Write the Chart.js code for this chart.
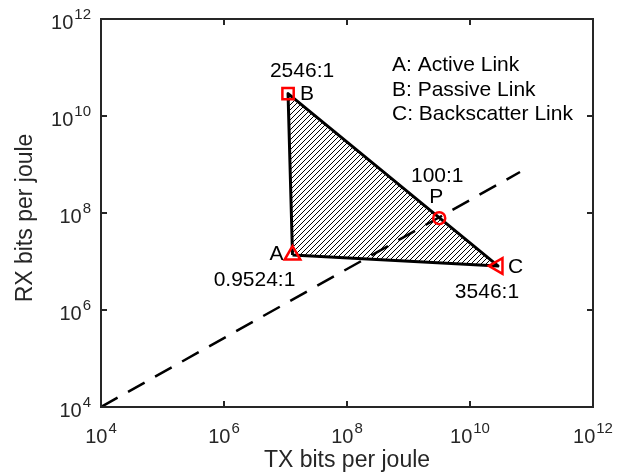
<!DOCTYPE html>
<html>
<head>
<meta charset="utf-8">
<script src="https://cdn.jsdelivr.net/npm/chart.js@4.4.1/dist/chart.umd.min.js"></script>
<style>
  html, body { margin: 0; padding: 0; background: #fff; }
</style>
</head>
<body>
<canvas id="linkChart" width="631" height="474"></canvas>
<script>
// TX / RX energy efficiency of each link type (bits per joule)
const linkNames = ['A', 'B', 'C'];
const txBits = [1.3e7, 1.1e7, 2.85e10];
const rxBits = [1.36e7, 2.9e10, 8.1e6];
const linkRatios = ['0.9524:1', '2546:1', '3546:1'];

// operating point P on the B-C edge
const pName = 'P';
const pTx = 3.16e9;
const pRx = 7.8e7;
const pRatio = '100:1';

// dashed reference line
const refTx = [1e4, 6.5e10];
const refRx = [1e4, 7.0e8];

const tickExps = [4, 6, 8, 10, 12];
const legendLines = ['A: Active Link', 'B: Passive Link', 'C: Backscatter Link'];

const FONT = '"Liberation Sans", Arial, Helvetica, sans-serif';
const AXIS_COLOR = '#262626';

function hatchPattern(ctx) {
    const tile = document.createElement('canvas');
    tile.width = 5;
    tile.height = 5;
    const t = tile.getContext('2d');
    t.strokeStyle = '#000';
    t.lineWidth = 1;
    t.beginPath();
    t.moveTo(0, 5); t.lineTo(5, 0);
    t.moveTo(-1, 1); t.lineTo(1, -1);
    t.moveTo(4, 6); t.lineTo(6, 4);
    t.stroke();
    return ctx.createPattern(tile, 'repeat');
}

// label offsets (px) from each marker: [dx, dy, align]
const nameOffsets = [[-9, 5, 'right'], [12, 6, 'left'], [10, 7, 'left']];
const ratioOffsets = [[-38, 31, 'center'], [14, -17, 'center'], [-11, 32, 'center']];

// frame, inward ticks, 10^n tick labels and axis titles
const axesBox = {
    id: 'axesBox',
    afterDraw(chart) {
        const { ctx, chartArea: a, scales: { x, y } } = chart;
        ctx.save();
        ctx.strokeStyle = AXIS_COLOR;
        ctx.lineWidth = 2;
        ctx.strokeRect(a.left, a.top, a.right - a.left, a.bottom - a.top);

        ctx.beginPath();
        tickExps.forEach(e => {
            const px = x.getPixelForValue(Math.pow(10, e));
            const py = y.getPixelForValue(Math.pow(10, e));
            ctx.moveTo(px, a.bottom); ctx.lineTo(px, a.bottom - 6);
            ctx.moveTo(px, a.top); ctx.lineTo(px, a.top + 6);
            ctx.moveTo(a.left, py); ctx.lineTo(a.left + 6, py);
            ctx.moveTo(a.right, py); ctx.lineTo(a.right - 6, py);
        });
        ctx.stroke();

        ctx.fillStyle = AXIS_COLOR;
        ctx.textBaseline = 'alphabetic';
        ctx.textAlign = 'left';
        tickExps.forEach(e => {
            const exp = String(e);
            ctx.font = '20px ' + FONT;
            const wBase = ctx.measureText('10').width;
            ctx.font = '15px ' + FONT;
            const wExp = ctx.measureText(exp).width;

            // x axis
            const px = x.getPixelForValue(Math.pow(10, e));
            const x0 = px - (wBase + 1 + wExp) / 2;
            ctx.font = '20px ' + FONT;
            ctx.fillText('10', x0, a.bottom + 36);
            ctx.font = '15px ' + FONT;
            ctx.fillText(exp, x0 + wBase + 1, a.bottom + 26);

            // y axis
            const py = y.getPixelForValue(Math.pow(10, e));
            const expLeft = a.left - 10 - wExp;
            ctx.fillText(exp, expLeft, py);
            ctx.font = '20px ' + FONT;
            ctx.fillText('10', expLeft - 1 - wBase, py + 10);
        });

        ctx.font = '23px ' + FONT;
        ctx.textAlign = 'center';
        ctx.fillText('TX bits per joule', (a.left + a.right) / 2, a.bottom + 60);
        ctx.translate(32, (a.top + a.bottom) / 2 + 5);
        ctx.rotate(-Math.PI / 2);
        ctx.fillText('RX bits per joule', 0, 0);
        ctx.restore();
    }
};

// point names, ratio labels and the text legend
const annotations = {
    id: 'annotations',
    afterDatasetsDraw(chart) {
        const { ctx, chartArea: a, scales: { x, y } } = chart;
        ctx.save();
        ctx.fillStyle = '#000';
        ctx.textBaseline = 'alphabetic';
        ctx.font = '21px ' + FONT;

        linkNames.forEach((name, i) => {
            const px = x.getPixelForValue(txBits[i]);
            const py = y.getPixelForValue(rxBits[i]);
            const [ndx, ndy, nal] = nameOffsets[i];
            ctx.textAlign = nal;
            ctx.fillText(name, px + ndx, py + ndy);
            const [rdx, rdy, ral] = ratioOffsets[i];
            ctx.textAlign = ral;
            ctx.fillText(linkRatios[i], px + rdx, py + rdy);
        });

        const ppx = x.getPixelForValue(pTx);
        const ppy = y.getPixelForValue(pRx);
        ctx.textAlign = 'center';
        ctx.fillText(pName, ppx - 3, ppy - 15);
        ctx.fillText(pRatio, ppx - 2, ppy - 36);

        ctx.font = '21px ' + FONT;
        ctx.textAlign = 'left';
        legendLines.forEach((line, i) => {
            ctx.fillText(line, a.left + 291, a.top + 52 + i * 24.5);
        });
        ctx.restore();
    }
};

const canvas = document.getElementById('linkChart');
const ctx = canvas.getContext('2d');

const polygon = [0, 1, 2, 0].map(i => ({ x: txBits[i], y: rxBits[i] }));
const markers = linkNames.map((n, i) => ({ x: txBits[i], y: rxBits[i] }));
markers.push({ x: pTx, y: pRx });

new Chart(ctx, {
    type: 'line',
    data: {
        datasets: [
            {
                label: 'markers',
                data: markers,
                showLine: false,
                pointStyle: ['triangle', 'rect', 'triangle', 'circle'],
                pointRotation: [0, 0, -90, 0],
                pointRadius: [9, 8, 9, 6],
                pointBorderWidth: 2.5,
                pointBorderColor: '#ff0000',
                pointBackgroundColor: 'rgba(0,0,0,0)',
                order: 0
            },
            {
                label: 'reference',
                data: refTx.map((v, i) => ({ x: v, y: refRx[i] })),
                borderColor: '#000',
                borderWidth: 2.5,
                borderDash: [19, 12],
                pointRadius: 0,
                fill: false,
                order: 1
            },
            {
                label: 'region',
                data: polygon,
                borderColor: '#000',
                borderWidth: 3,
                borderJoinStyle: 'round',
                pointRadius: 0,
                tension: 0,
                fill: 'shape',
                backgroundColor: hatchPattern(ctx),
                order: 2
            }
        ]
    },
    options: {
        responsive: false,
        animation: false,
        devicePixelRatio: 1,
        layout: { padding: { left: 101, top: 19, right: 38, bottom: 67 } },
        scales: {
            x: { type: 'logarithmic', min: 1e4, max: 1e12, display: false },
            y: { type: 'logarithmic', min: 1e4, max: 1e12, display: false }
        },
        plugins: {
            legend: { display: false },
            tooltip: { enabled: false }
        }
    },
    plugins: [axesBox, annotations]
});
</script>
</body>
</html>
